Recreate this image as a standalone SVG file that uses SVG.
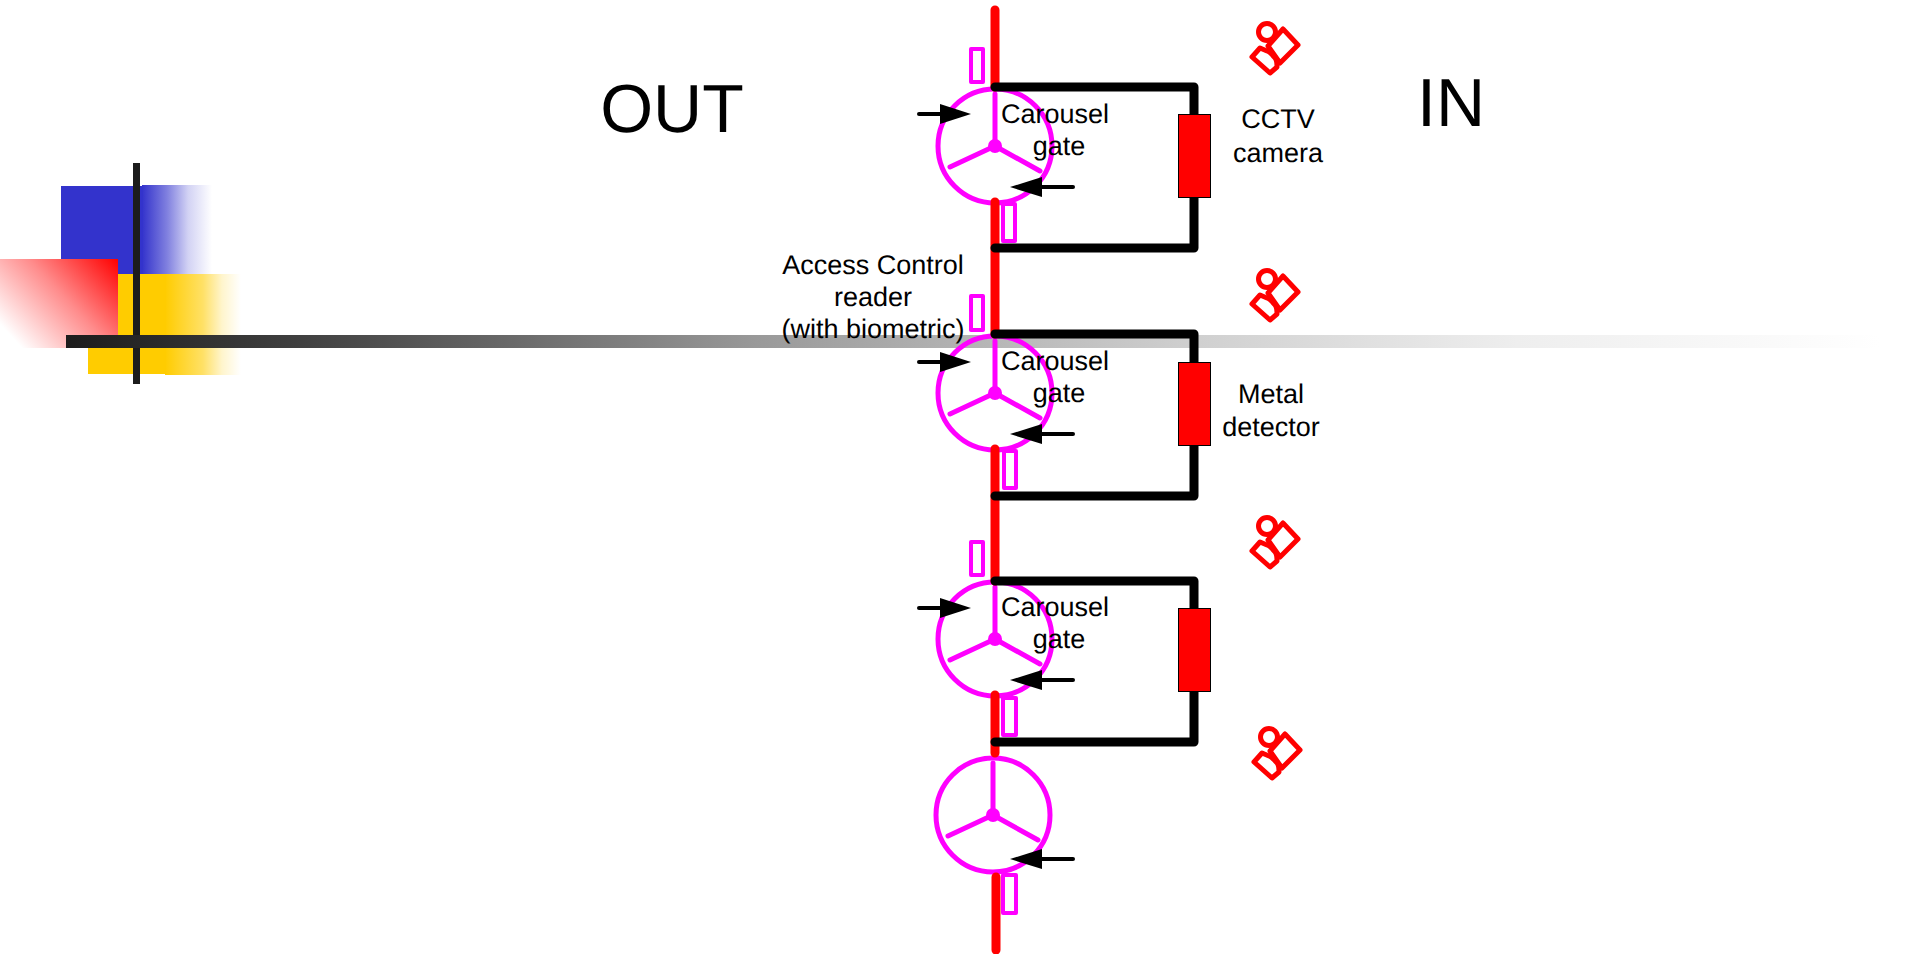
<svg xmlns="http://www.w3.org/2000/svg" width="1915" height="954" viewBox="0 0 1915 954">
<style>
text{font-family:"Liberation Sans",Arial,sans-serif;font-size:27px;fill:#000;text-anchor:middle;text-rendering:geometricPrecision}
.big{font-size:68px}
.wall{stroke:#f00;stroke-width:9;stroke-linecap:round;fill:none}
.mag{stroke:#f0f;fill:none;stroke-linecap:round;stroke-linejoin:round}
.br{stroke:#000;stroke-width:9;fill:none;stroke-linecap:round;stroke-linejoin:round}
.det{fill:#f00;stroke:#000;stroke-width:1}
.arr{stroke:#000;stroke-width:4;stroke-linecap:round}
.cam{stroke:#f00;stroke-width:5;fill:none;stroke-linejoin:round}
</style>
<defs>
<linearGradient id="gb" x1="0" x2="1" y1="0" y2="0"><stop offset="0" stop-color="#3333cc"/><stop offset=".36" stop-color="#3333cc" stop-opacity=".62"/><stop offset=".66" stop-color="#3333cc" stop-opacity=".22"/><stop offset="1" stop-color="#3333cc" stop-opacity="0"/></linearGradient>
<linearGradient id="gy" x1="0" x2="1" y1="0" y2="0"><stop offset="0" stop-color="#ffcc00"/><stop offset=".5" stop-color="#ffcc00" stop-opacity=".6"/><stop offset=".75" stop-color="#ffcc00" stop-opacity=".2"/><stop offset="1" stop-color="#ffcc00" stop-opacity="0"/></linearGradient>
<linearGradient id="gr" gradientUnits="userSpaceOnUse" x1="118" y1="259" x2="22" y2="348"><stop offset="0" stop-color="#f00"/><stop offset=".5" stop-color="#ff8c8c"/><stop offset="1" stop-color="#fff"/></linearGradient>
<linearGradient id="gk" x1="0" x2="1" y1="0" y2="0"><stop offset="0" stop-color="#1c1c1c"/><stop offset=".13" stop-color="#404040"/><stop offset=".38" stop-color="#999"/><stop offset=".625" stop-color="#d0d0d0"/><stop offset=".8" stop-color="#eee"/><stop offset="1" stop-color="#fff"/></linearGradient>
<g id="gate"><circle class="mag" cx="0" cy="0" r="57" stroke-width="5"/><circle cx="0" cy="0" r="7" fill="#f0f"/><path class="mag" stroke-width="5" d="M0 0V-52M0 0L-45 21M0 0L45 25"/></g>
<g id="cam"><circle class="cam" cx="1267" cy="32" r="8.500"/><path class="cam" d="M1283 29L1298 45L1280 63L1268 46Z"/><path class="cam" d="M1260 48L1252 57L1270 73L1277 67Q1277 60 1275 58Q1270 52 1267 51Z"/></g>
<g id="arR"><line class="arr" x1="0" y1="0" x2="24" y2="0"/><path d="M21 -10L52 0L21 10Z" fill="#000"/></g>
<g id="arL"><line class="arr" x1="0" y1="0" x2="-34" y2="0"/><path d="M-31 -10L-63 0L-31 10Z" fill="#000"/></g>
</defs>
<g id="decoration">
<rect x="61" y="186" width="82" height="88" fill="#3333cc"/>
<rect x="142" y="185" width="70" height="89" fill="url(#gb)"/>
<rect x="88" y="274" width="78" height="100" fill="#ffcc00"/>
<rect x="165" y="274" width="76" height="101" fill="url(#gy)"/>
<rect x="0" y="259" width="118" height="89" fill="url(#gr)"/>
<rect x="133" y="163" width="7" height="221" fill="#1c1c1c"/>
<rect x="66" y="335" width="1814" height="13" fill="url(#gk)"/>
</g>
<g id="gate1"><use href="#gate" x="995" y="146"/><rect class="mag" x="971" y="49" width="12" height="33" stroke-width="4"/><rect class="mag" x="1003" y="204" width="12" height="37" stroke-width="4"/><use href="#arR" x="919" y="114"/><use href="#arL" x="1073" y="187"/></g>
<g id="gate2"><use href="#gate" x="995" y="393"/><rect class="mag" x="971" y="296" width="12" height="34" stroke-width="4"/><rect class="mag" x="1004" y="451" width="12" height="37" stroke-width="4"/><use href="#arR" x="919" y="362"/><use href="#arL" x="1073" y="434"/></g>
<g id="gate3"><use href="#gate" x="995" y="639"/><rect class="mag" x="971" y="542" width="12" height="33" stroke-width="4"/><rect class="mag" x="1003" y="698" width="13" height="37" stroke-width="4"/><use href="#arR" x="919" y="608"/><use href="#arL" x="1073" y="680"/></g>
<g id="gate4"><use href="#gate" x="993" y="815"/><rect class="mag" x="1003" y="875" width="13" height="38" stroke-width="4"/><use href="#arL" x="1073" y="859"/></g>
<g id="connectors">
<path class="wall" d="M995 10V87M995 202V334M995 449V581M995 695V753"/>
<path class="wall" d="M996 877V950"/>
<path class="br" d="M995 87H1194V248H995"/>
<path class="br" d="M995 334H1194V496H995"/>
<path class="br" d="M995 581H1194V742H995"/>
</g>
<g id="detector1"><rect class="det" x="1178.500" y="114.500" width="32" height="83"/></g>
<g id="detector2"><rect class="det" x="1178.500" y="362.500" width="32" height="83"/></g>
<g id="detector3"><rect class="det" x="1178.500" y="608.500" width="32" height="83"/></g>
<g id="camera1"><use href="#cam"/></g>
<g id="camera2"><use href="#cam" y="247"/></g>
<g id="camera3"><use href="#cam" y="494"/></g>
<g id="camera4"><use href="#cam" x="2" y="705"/></g>
<g id="labels">
<text class="big" x="672" y="132">OUT</text>
<text class="big" x="1451" y="126">IN</text>
<text x="1055" y="123">Carousel</text><text x="1059" y="155">gate</text>
<text x="1055" y="370">Carousel</text><text x="1059" y="402">gate</text>
<text x="1055" y="616">Carousel</text><text x="1059" y="648">gate</text>
<text x="1278" y="128">CCTV</text><text x="1278" y="162">camera</text>
<text x="1271" y="403">Metal</text><text x="1271" y="436">detector</text>
<text x="873" y="274">Access Control</text><text x="873" y="306">reader</text><text x="873" y="338">(with biometric)</text>
</g>
</svg>
